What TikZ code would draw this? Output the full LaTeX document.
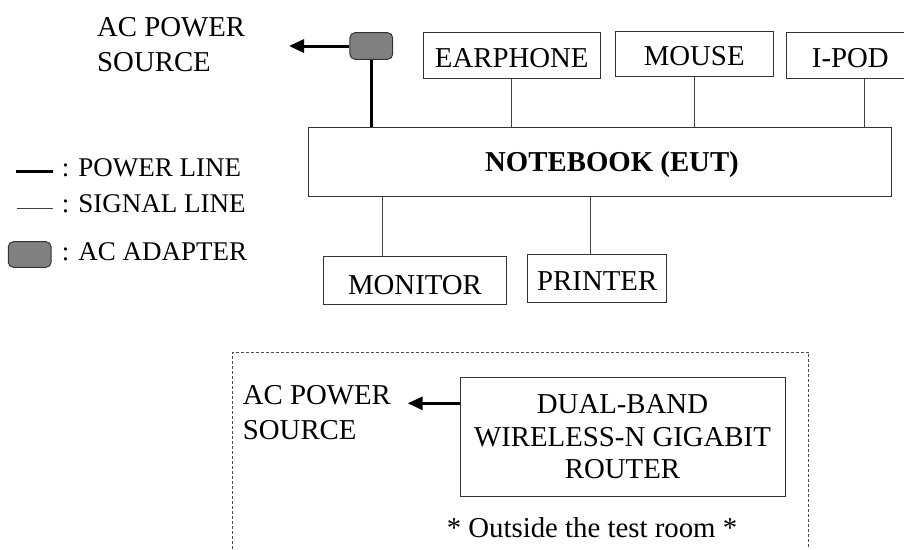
\documentclass[tikz,border=0pt]{standalone}
\usepackage{fontspec}
\setmainfont{Liberation Serif}
\usetikzlibrary{arrows.meta}
\begin{document}
\begin{tikzpicture}[x=1pt,y=-1pt,
  txt/.style={font=\fontsize{28.8}{34.6}\selectfont, inner sep=0pt},
  frame/.style={draw=black!80, line width=1pt, rectangle, inner sep=0pt},
  box/.style={frame, font=\fontsize{28.8}{34.6}\selectfont, text height=24pt, text depth=0pt},
  sig/.style={draw=black!75, line width=1pt},
  pwr/.style={draw=black, line width=3pt},
  adapter/.style={draw=black!80, fill=black!50, line width=1pt, rounded corners=5pt,
    minimum width=42.7pt, minimum height=26.6pt, inner sep=0pt},
  legtxt/.style={font=\fontsize{27}{32}\selectfont, inner sep=0pt, anchor=base west},
  tip/.style={-{Triangle[length=15pt,width=13pt]}},
]
\useasboundingbox (0,0) rectangle (904,549);
\clip (0,0) rectangle (904,549);

% mains supply of the notebook
\node[txt, align=left, anchor=north west] (src1) at (97,17.4) {AC POWER\\SOURCE};
\coordinate (tip1) at (289,46);
\node[adapter] (ad1) at (371.3,46) {};
\draw[pwr, tip] (ad1.west) -- (tip1);

% peripherals and the notebook
\node[box, minimum width=176.7pt, minimum height=45.5pt] (ear) at (511.7,55.3) {EARPHONE};
\node[box, minimum width=158.3pt, minimum height=45pt] (mouse) at (694.2,53.5) {MOUSE};
\node[box, minimum width=127.3pt, minimum height=45.8pt] (ipod) at (850.3,55.4) {I-POD};
\node[frame, minimum width=583pt, minimum height=68.7pt] (nb) at (600.2,161.7) {};
\node[inner sep=0pt, font=\bfseries\fontsize{28.8}{34.6}\selectfont, text height=19pt, text depth=0pt]
  (nbl) at (612,161.7) {NOTEBOOK (EUT)};
\node[box, minimum width=183.4pt, minimum height=48pt, text height=28pt] (mon) at (415,280) {MONITOR};
\node[box, minimum width=139pt, minimum height=48pt] (prn) at (597.2,278) {PRINTER};

% cables
\draw[pwr] (ad1.south) -- (ad1.south |- nb.north);
\draw[sig] (ear.south) -- (ear.south |- nb.north);
\draw[sig] (mouse.south) -- (mouse.south |- nb.north);
\draw[sig] ([xshift=14pt]ipod.south) -- ([xshift=14pt]ipod.south |- nb.north);
\draw[sig] ([xshift=-33pt]mon.north) -- ([xshift=-33pt]mon.north |- nb.south);
\draw[sig] ([xshift=-6.5pt]prn.north) -- ([xshift=-6.5pt]prn.north |- nb.south);

% legend
\coordinate (lp1) at (16,171);
\coordinate (lp2) at (52.7,171);
\draw[pwr] (lp1) -- (lp2);
\node[legtxt] (lgp) at (61.7,176.7) {: POWER LINE};
\coordinate (ls1) at (16.7,208.3);
\coordinate (ls2) at (52.7,208.3);
\draw[sig] (ls1) -- (ls2);
\node[legtxt] (lgs) at (61.7,212.7) {: SIGNAL LINE};
\node[adapter, minimum height=25.6pt] (ad0) at (29.7,254.5) {};
\node[legtxt] (lga) at (61.7,260) {: AC ADAPTER};

% router outside the test room
\draw[black!70, line width=1pt, dash pattern=on 3pt off 2pt]
  (232.7,549) -- (232.7,352) -- (808.7,352) -- (808.7,549);
\node[txt, align=left, anchor=north west] (src2) at (242.7,385.7) {AC POWER\\SOURCE};
\node[frame, minimum width=325pt, minimum height=119.4pt, align=center,
  font=\fontsize{28.8}{32.5}\selectfont] (router) at (622.5,437)
  {DUAL-BAND\\WIRELESS-N GIGABIT\\ROUTER};
\coordinate (tip2) at (407.7,403.3);
\draw[pwr, tip] (tip2 -| router.west) -- (tip2);
\node[txt, anchor=base] (note) at (592,537) {* Outside the test room *};
\end{tikzpicture}
\end{document}
